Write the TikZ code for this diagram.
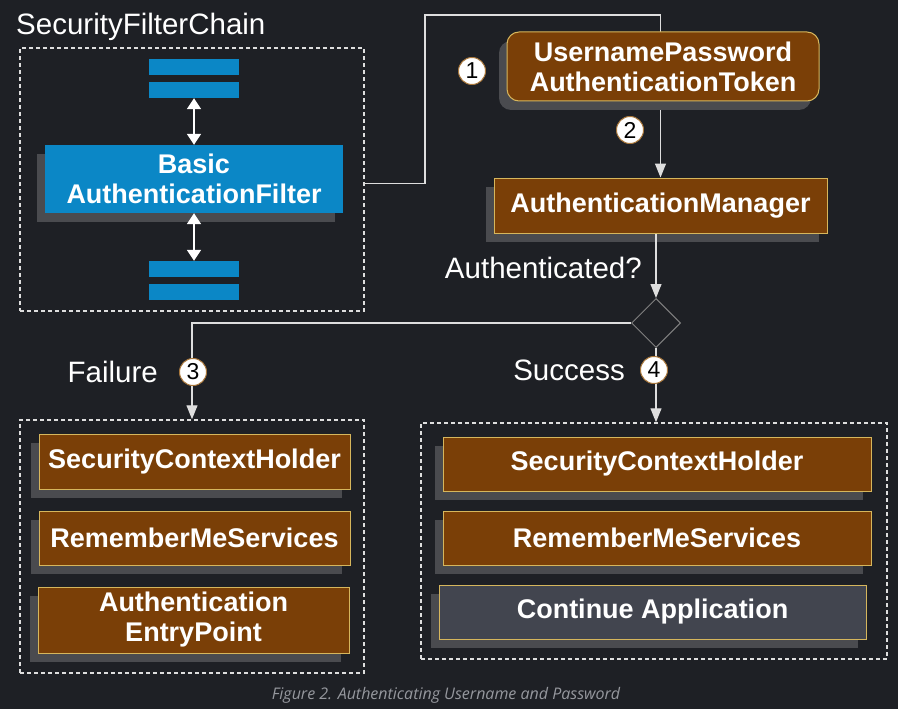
\documentclass[tikz,border=0pt]{standalone}
\usepackage{fontspec}
\setmainfont{Liberation Sans}
\newfontfamily\capfont{Open Sans}
\usetikzlibrary{arrows.meta,shapes.geometric,shadows}

\definecolor{bgdark}{RGB}{30,32,37}
\definecolor{brownfill}{RGB}{122,63,7}
\definecolor{goldline}{RGB}{214,182,92}
\definecolor{shadowgray}{RGB}{74,75,79}
\definecolor{filterblue}{RGB}{11,135,198}
\definecolor{appgray}{RGB}{66,69,79}
\definecolor{linegray}{RGB}{222,222,222}
\definecolor{capgray}{RGB}{150,152,158}
\definecolor{numline}{RGB}{170,120,60}

\tikzset{
  boxshadow/.style={drop shadow={shadow xshift=-8pt,shadow yshift=-9pt,opacity=1,fill=shadowgray}},
  boxtext/.style={text=white,align=center,inner sep=0pt,font=\fontsize{27}{30}\selectfont\bfseries},
  brownbox/.style={boxshadow,boxtext,draw=goldline,fill=brownfill,line width=1pt},
  appbox/.style={boxshadow,boxtext,draw=goldline,fill=appgray,line width=1pt},
  bar/.style={fill=filterblue,minimum width=90pt,minimum height=16pt,inner sep=0pt},
  group/.style={draw=linegray,line width=1.5pt,dash pattern=on 4pt off 3pt,inner sep=0pt},
  label/.style={text=white,font=\fontsize{29.5}{32}\selectfont,inner sep=0pt},
  num/.style={circle,draw=numline,fill=white,line width=1pt,minimum size=27pt,inner sep=0pt,font=\fontsize{23}{23}\selectfont},
  link/.style={draw=linegray,line width=1.2pt,-{Triangle[width=11pt,length=14pt]}},
  both/.style={draw=white,line width=1.8pt,{Triangle[width=14pt,length=11pt]}-{Triangle[width=14pt,length=11pt]}}
}

\begin{document}
\begin{tikzpicture}[x=1pt,y=-1pt]
  \fill[bgdark] (0,0) rectangle (898,709);
  \useasboundingbox (0,0) rectangle (898,709);

  % security filter chain
  \node[label,anchor=west] (chaintitle) at (16,27) {SecurityFilterChain};
  \node[group,minimum width=344pt,minimum height=263pt] (chain) at (192,179.5) {};
  \foreach \n/\y in {1/67,2/90,3/269,4/292}
    \node[bar] (bar\n) at (194,\y) {};
  \node[boxshadow,boxtext,fill=filterblue,minimum width=298pt,minimum height=68pt] (filter) at (194,179) {Basic\\AuthenticationFilter};
  \draw[both] (bar2.south) -- (filter.north);
  \draw[both] (filter.south) -- (bar3.north);

  % token and manager
  \coordinate (bend) at (425,15);
  \node[brownbox,minimum width=333pt,minimum height=55pt] (manager) at (660.5,205.5) {AuthenticationManager};
  \draw[link] ([yshift=-4pt]chain.east) -| (bend) -| (manager.north);
  \node[brownbox,rounded corners=12pt,minimum width=312pt,minimum height=69pt] (token) at (663,66.5) {UsernamePassword\\AuthenticationToken};

  \node[diamond,draw=gray,line width=1pt,minimum size=49pt,inner sep=0pt] (decision) at (656,323) {};
  \node[label,anchor=east] (authq) at (642,268) {Authenticated?};
  \draw[link] (manager.south -| decision.north) -- (decision.north);

  % failure and success
  \node[group,minimum width=344pt,minimum height=253pt] (failbox) at (192,546.5) {};
  \node[group,minimum width=466pt,minimum height=236pt] (okbox) at (654,541) {};
  \draw[link] (decision.west) -| (failbox.north);
  \draw[link] (decision.south) -- (decision.south |- okbox.north);
  \node[label,anchor=east] (failure) at (158,372) {Failure};
  \node[label,anchor=east] (success) at (625,370) {Success};

  \foreach \n/\x/\y in {1/472/71,2/630/130,3/193/372,4/654/370}
    \node[num] (num\n) at (\x,\y) {\n};

  \node[brownbox,minimum width=311pt,minimum height=55pt] (failctx) at (194.5,461.5) {SecurityContextHolder};
  \node[brownbox,minimum width=311pt,minimum height=54pt] (failrem) at (194.5,538) {RememberMeServices};
  \node[brownbox,minimum width=311pt,minimum height=66pt] (failentry) at (193.5,620) {Authentication\\EntryPoint};

  \node[brownbox,minimum width=428pt,minimum height=54pt] (okctx) at (657,464) {SecurityContextHolder};
  \node[brownbox,minimum width=428pt,minimum height=54pt] (okrem) at (657,538) {RememberMeServices};
  \node[appbox,minimum width=427pt,minimum height=54pt] (okcont) at (652.5,612) {Continue Application};

  \node[text=capgray,font=\capfont\itshape\fontsize{16}{18}\selectfont] (caption) at (446,695) {Figure 2. Authenticating Username and Password};
\end{tikzpicture}
\end{document}
